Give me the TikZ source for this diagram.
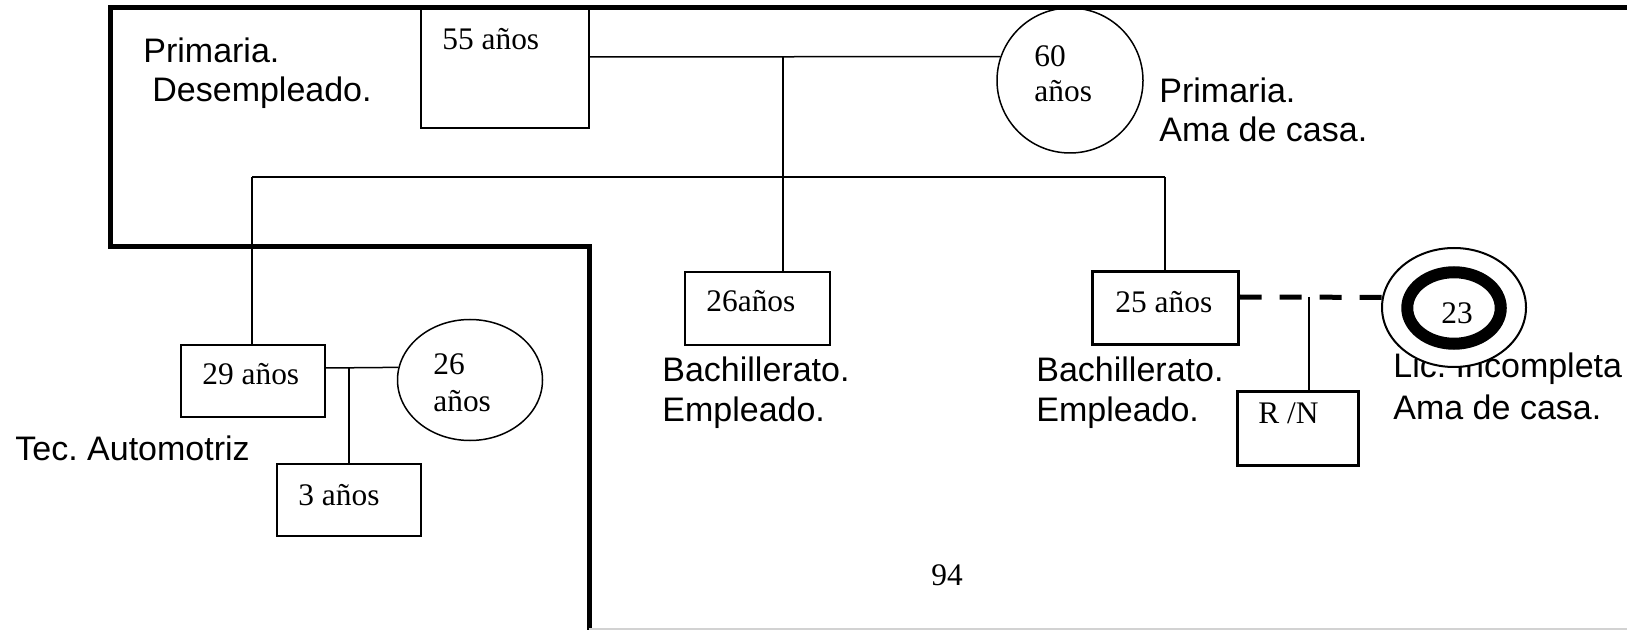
\documentclass[tikz,border=0pt]{standalone}
\usepackage{fontspec}
\setmainfont{Liberation Serif}
\newfontfamily\arialfam{Liberation Sans}
\usetikzlibrary{shapes.geometric}
\frenchspacing
\tikzset{
  caja/.style={draw, rectangle, line width=0.75pt, inner sep=0pt},
  cajagruesa/.style={caja, line width=1.5pt},
  ovalo/.style={draw, ellipse, line width=0.75pt, inner sep=0pt, fill=white},
  romana/.style={inner sep=0pt, anchor=base west, font=\fontsize{15.7}{18}\selectfont},
  palo/.style={inner sep=0pt, anchor=base west, font=\arialfam\fontsize{17}{20}\selectfont},
  linea/.style={line width=0.75pt},
  borde/.style={line width=2.5pt},
  union/.style={line width=2.5pt, dash pattern=on 11pt off 9pt}
}
\begin{document}
\begin{tikzpicture}[x=0.5pt,y=-0.5pt]
\useasboundingbox (0,0) rectangle (1627,630);
\node[caja, minimum width=84pt, minimum height=60pt] (f55) at (505,68) {};
\node[ovalo, minimum width=73pt, minimum height=72.5pt] (m60) at (1070,80.5) {};
\node[caja, minimum width=72.5pt, minimum height=36.5pt] (h26) at (757.5,308.5) {};
\node[cajagruesa, minimum width=73pt, minimum height=36.5pt] (h25) at (1165,308.5) {};
\node[caja, minimum width=72pt, minimum height=36pt] (h29) at (253,381) {};
\node[ovalo, minimum width=72.5pt, minimum height=60.5pt] (m26) at (470,380) {};
\node[caja, minimum width=72pt, minimum height=36pt] (n3) at (349,500) {};
\node[cajagruesa, minimum width=60.5pt, minimum height=36.5pt] (rn) at (1297.5,428.5) {};

\node[romana] (t55) at (442,50) {55 años};
\node[romana] (t60a) at (1034,67) {60};
\node[romana] (t60b) at (1034,102) {años};
\node[romana] (t26) at (706,312) {26años};
\node[romana] (t25) at (1115,313) {25 años};
\node[romana] (t29) at (202,385) {29 años};
\node[romana] (t26a) at (433,375) {26};
\node[romana] (t26b) at (433,412) {años};
\node[romana] (t3) at (298,505) {3 años};
\node[romana] (trn) at (1258,423) {R /N};
\node[romana] (t94) at (931,585) {94};

\node[palo] (edu55) at (143,63) {Primaria.};
\node[palo] (ocu55) at (152,102) {Desempleado.};
\node[palo] (edu60) at (1159,103) {Primaria.};
\node[palo] (ocu60) at (1159,142) {Ama de casa.};
\node[palo] (edu26) at (662,382) {Bachillerato.};
\node[palo] (ocu26) at (662,422) {Empleado.};
\node[palo] (edu25) at (1036,382) {Bachillerato.};
\node[palo] (ocu25) at (1036,422) {Empleado.};
\node[palo] (edu29) at (15,460) {Tec. Automotriz};
\node[palo] (edu23) at (1393,378) {Lic. Incompleta};
\node[palo] (ocu23) at (1393,420) {Ama de casa.};

\node[ovalo, line width=1pt, minimum width=72pt, minimum height=59.5pt] (m23) at (1454,307.5) {};
\node[draw, ellipse, line width=6pt, minimum width=46.75pt, minimum height=35.75pt, inner sep=0pt] (m23in) at (1454,308) {};
\node[romana, anchor=base] (t23) at (1457,324) {23};

\coordinate (u1) at (783,57);
\coordinate (s1) at (252,177);
\coordinate (s2) at (1165,177);
\coordinate (u2) at (349,368);
\coordinate (u3) at (1309,297);
\draw[linea] (f55.east |- u1) -- (m60.161);
\draw[linea] (u1) -- (h26.north -| u1);
\draw[linea] (s1) -- (s2);
\draw[linea] (s1) -- (h29.north -| s1);
\draw[linea] (s2) -- (h25.north);
\draw[linea] (h29.east |- u2) -- (m26.170);
\draw[linea] (u2) -- (n3.north);
\draw[union] (h25.east |- u3) -- (m23.172);
\draw[linea] (u3) -- (rn.north -| u3);
\draw[borde] (1627,8) -- (110,8) -- (110,247) -- (589,247) -- (589,630);
\draw[gray!35, line width=0.75pt] (589,629) -- (1627,629);
\end{tikzpicture}
\end{document}
